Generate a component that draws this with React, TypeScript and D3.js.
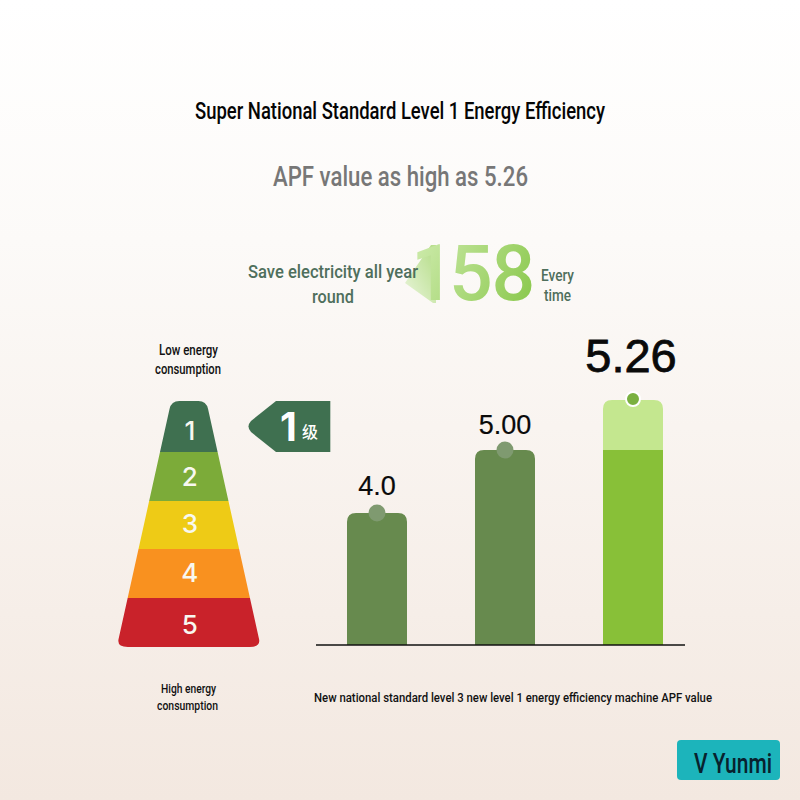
import * as d3 from 'd3';

const categories = ['New national standard level 3', 'New level 1', 'Yunmi'];
const apfValues = [4.0, 5.0, 5.26];
const apfLabels = ['4.0', '5.00', '5.26'];
const levels = [1, 2, 3, 4, 5];
const levelColors = ['#3f7050', '#7cab39', '#eecb16', '#f9911f', '#c9222a'];

const width = 800;
const height = 800;
const condensed = 'Roboto, sans-serif';

// the bars in the picture are not drawn to a zero based scale, so it is piecewise
const y = d3.scaleLinear().domain([0, 4, 5, 5.26]).range([645, 513, 450, 400]);
const x = d3.scaleBand<string>().domain(categories).range([313, 697]).paddingInner(0.53125).paddingOuter(0.265625);

const levelY = d3.scaleLinear().domain([0, 1, 2, 3, 4, 5]).range([401, 452, 501, 549, 598, 647]);
const halfWidth = d3.scaleLinear().domain([401, 647]).range([17.5, 72]);
const pyramidX = 188.8;
const levelTextOffset = [13, 9, 8, 8, 11];

function barPath(left: number, top: number, w: number, bottom: number, r: number) {
    const p = d3.path();
    p.moveTo(left, bottom);
    p.lineTo(left, top + r);
    p.quadraticCurveTo(left, top, left + r, top);
    p.lineTo(left + w - r, top);
    p.quadraticCurveTo(left + w, top, left + w, top + r);
    p.lineTo(left + w, bottom);
    p.closePath();
    return p.toString();
}

function pyramidPath() {
    const top = levelY(0);
    const bottom = levelY(5);
    const r = 8;
    const p = d3.path();
    const tl = pyramidX - halfWidth(top);
    const tr = pyramidX + halfWidth(top);
    const bl = pyramidX - halfWidth(bottom);
    const br = pyramidX + halfWidth(bottom);
    p.moveTo(tl + 8, top);
    p.lineTo(tr - 8, top);
    p.quadraticCurveTo(tr, top, pyramidX + halfWidth(top + r), top + r);
    p.lineTo(pyramidX + halfWidth(bottom - r), bottom - r);
    p.quadraticCurveTo(br, bottom, br - 11, bottom);
    p.lineTo(bl + 11, bottom);
    p.quadraticCurveTo(bl, bottom, pyramidX - halfWidth(bottom - r), bottom - r);
    p.lineTo(pyramidX - halfWidth(top + r), top + r);
    p.quadraticCurveTo(tl, top, tl + 8, top);
    p.closePath();
    return p.toString();
}

function badgePath() {
    const p = d3.path();
    p.moveTo(330.3, 401);
    p.lineTo(330.3, 452);
    p.lineTo(276, 452);
    p.lineTo(251, 432);
    p.quadraticCurveTo(246, 426.5, 251, 421);
    p.lineTo(276, 401);
    p.closePath();
    return p.toString();
}

function arrowPath() {
    const p = d3.path();
    p.moveTo(405, 283);
    p.lineTo(431, 245);
    p.lineTo(436, 245);
    p.lineTo(436, 303);
    p.lineTo(433, 303);
    p.closePath();
    return p.toString();
}

// the source font is narrower than anything installed, so each line is fitted to its measured width
function Fit({ x0, x1, base, size, fill, weight = 500, children }: { x0: number; x1: number; base: number; size: number; fill: string; weight?: number; children: string }) {
    return (
        <text x={x0} y={base} textLength={x1 - x0} lengthAdjust="spacingAndGlyphs" fontFamily={condensed} fontSize={size} fontWeight={weight} fill={fill}>
            {children}
        </text>
    );
}

export default function App() {
    const bw = x.bandwidth();
    return (
        <svg width={width} height={height} style={{ position: 'fixed', left: 0, top: 0 }}>
            <defs>
                <linearGradient id="bg" x1="0" y1="0" x2="0" y2="1">
                    <stop offset="0" stopColor="#ffffff" />
                    <stop offset="0.3" stopColor="#fcfaf8" />
                    <stop offset="1" stopColor="#f3e8e0" />
                </linearGradient>
                <linearGradient id="num" gradientUnits="userSpaceOnUse" x1="425" y1="245" x2="530" y2="300">
                    <stop offset="0" stopColor="#c8e8a4" />
                    <stop offset="1" stopColor="#8cc94f" />
                </linearGradient>
                <linearGradient id="arrow" gradientUnits="userSpaceOnUse" x1="405" y1="290" x2="442" y2="270">
                    <stop offset="0" stopColor="#e4f2d2" />
                    <stop offset="1" stopColor="#b9df8f" />
                </linearGradient>
                <clipPath id="pyramid">
                    <path d={pyramidPath()} />
                </clipPath>
            </defs>
            <rect width={width} height={height} fill="url(#bg)" />

            <Fit x0={195} x1={605} base={119} size={23} fill="#050505">Super National Standard Level 1 Energy Efficiency</Fit>
            <Fit x0={273} x1={528} base={186} size={28} fill="#777777">APF value as high as 5.26</Fit>

            <path d={arrowPath()} fill="url(#arrow)" />
            <text x="411 449 491.5" y={300} fontFamily={condensed} fontSize={77} fontWeight={500} fill="url(#num)">158</text>
            <Fit x0={248} x1={418} base={278} size={19} fill="#4f6f5c">Save electricity all year</Fit>
            <Fit x0={312} x1={354} base={303} size={19} fill="#4f6f5c">round</Fit>
            <Fit x0={541} x1={574} base={281} size={16} fill="#4f6f5c">Every</Fit>
            <Fit x0={544} x1={571} base={301} size={16} fill="#4f6f5c">time</Fit>

            <Fit x0={159} x1={218} base={355} size={14} fill="#111111">Low energy</Fit>
            <Fit x0={155} x1={221} base={374} size={14} fill="#111111">consumption</Fit>

            <g clipPath="url(#pyramid)">
                {levels.map((l, i) => (
                    <rect key={l} x={pyramidX - 80} y={levelY(i)} width={160} height={levelY(i + 1) - levelY(i)} fill={levelColors[i]} />
                ))}
            </g>
            {levels.map((l, i) => (
                <text key={l} x={pyramidX + 1} y={(levelY(i) + levelY(i + 1)) / 2 + levelTextOffset[i]} textAnchor="middle" fontFamily="Inter, sans-serif" fontWeight={500} fontSize={26} fill="#f8f8f0">{l}</text>
            ))}

            <path d={badgePath()} fill="#3f7050" />
            <text x={288.5} y={441} textAnchor="middle" fontFamily="Inter, sans-serif" fontWeight={700} fontSize={39} fill="#ffffff">1</text>
            <text x={310} y={438} textAnchor="middle" fontFamily="'Noto Sans CJK SC', sans-serif" fontWeight={500} fontSize={16} fill="#ffffff">级</text>

            <Fit x0={161} x1={216} base={693} size={12.5} fill="#111111">High energy</Fit>
            <Fit x0={157} x1={218} base={710} size={12.5} fill="#111111">consumption</Fit>

            {categories.map((c, i) => {
                const left = x(c)!;
                const last = i === categories.length - 1;
                return (
                    <g key={c}>
                        <path d={barPath(left, y(apfValues[i]), bw, y(0), 9)} fill={last ? '#c4e78f' : '#678a4e'} />
                        {last && <rect x={left} y={y(apfValues[i - 1])} width={bw} height={y(0) - y(apfValues[i - 1])} fill="#88c038" />}
                        <circle
                            cx={left + bw / 2}
                            cy={y(apfValues[i]) - (last ? 1 : 0)}
                            r={last ? 7 : 8.5}
                            fill={last ? '#7ab040' : '#7f9a70'}
                            stroke={last ? '#ffffff' : 'none'}
                            strokeWidth={2}
                        />
                        <text
                            x={left + bw / 2 - (last ? 2 : 0)}
                            y={last ? 372 : y(apfValues[i]) - (i === 0 ? 18 : 16)}
                            textAnchor="middle"
                            fontFamily="'Liberation Sans', sans-serif"
                            fontSize={last ? 47 : 27}
                            fill="#0a0a0a"
                            stroke="#0a0a0a"
                            strokeWidth={last ? 0.8 : 0.2}
                        >
                            {apfLabels[i]}
                        </text>
                    </g>
                );
            })}
            <line x1={316} x2={685} y1={y(0)} y2={y(0)} stroke="#111111" strokeWidth={1.5} />

            <Fit x0={314} x1={712} base={702} size={13} fill="#111111">New national standard level 3 new level 1 energy efficiency machine APF value</Fit>

            <rect x={677} y={740} width={103} height={40} rx={4} fill="#1cb4bb" />
            <Fit x0={694} x1={772} base={773} size={27} fill="#08222e">V Yunmi</Fit>
        </svg>
    );
}
